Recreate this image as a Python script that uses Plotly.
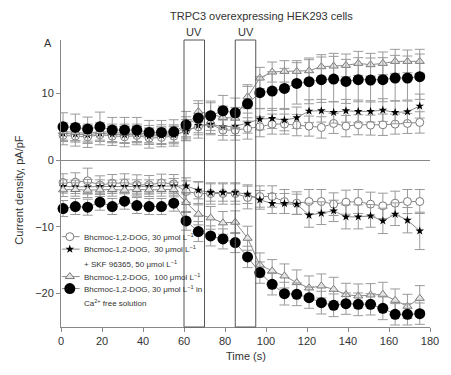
import plotly.graph_objects as go

# ---------------- data ----------------
time_s = [1, 7, 13, 19, 25, 31, 37, 43, 49, 55, 61, 67, 73, 79, 85,
          91, 97, 103, 109, 115, 121, 127, 133, 139, 145, 151, 157, 163, 169, 175]

# Bhcmoc-1,2-DOG 30 umol/L (open circles)
oc_pos = [3.7, 3.6, 3.5, 3.8, 3.6, 3.5, 3.7, 3.3, 3.4, 3.6, 4.5, 5.0, 5.4, 4.5, 4.5,
          4.75, 5.0, 5.4, 5.4, 5.25, 5.1, 4.9, 5.5, 5.1, 5.3, 5.25, 5.3, 5.4, 5.5, 5.65]
oc_pos_err = [1.4, 1.5, 1.6, 1.5, 1.4, 1.5, 1.4, 1.5, 1.4, 1.5, 1.6, 1.7, 1.6, 1.5, 1.5,
              1.6, 1.5, 1.5, 1.5, 1.6, 1.5, 1.6, 1.5, 1.6, 1.5, 1.5, 1.6, 1.5, 1.5, 1.6]
oc_neg = [-3.35, -3.3, -3.1, -3.75, -3.45, -3.45, -3.7, -3.7, -3.4, -3.55, -4.7, -5.0, -5.0, -5.0, -5.0,
          -5.6, -5.45, -5.45, -6.2, -6.45, -6.2, -6.2, -6.6, -6.3, -6.2, -6.6, -6.85, -6.45, -6.2, -6.2]
oc_neg_err = [1.3, 1.4, 1.9, 1.4, 1.3, 1.4, 1.5, 1.4, 1.3, 1.4, 1.6, 1.7, 1.6, 1.6, 1.6,
              1.7, 1.6, 1.6, 1.8, 1.7, 1.8, 1.8, 1.7, 1.8, 1.8, 1.8, 1.9, 1.8, 1.8, 1.8]

# Bhcmoc-1,2-DOG 30 umol/L + SKF 96365 50 umol/L (stars)
st_pos = [4.0, 3.9, 3.8, 4.0, 3.9, 3.8, 3.9, 3.6, 3.7, 3.8, 4.3, 5.2, 5.4, 5.0, 5.1,
          5.55, 6.15, 6.25, 6.0, 6.35, 7.35, 7.4, 7.15, 7.4, 7.3, 7.3, 7.5, 7.15, 7.25, 8.1]
st_pos_err = [1.2, 1.2, 1.3, 1.2, 1.2, 1.3, 1.2, 1.2, 1.3, 1.2, 1.3, 1.4, 1.4, 1.3, 1.4,
              1.5, 1.6, 1.5, 1.6, 1.6, 1.7, 1.7, 1.6, 1.7, 1.7, 1.6, 1.7, 1.7, 1.6, 1.8]
st_neg = [-3.95, -4.0, -4.0, -3.95, -4.0, -3.95, -3.95, -3.95, -3.95, -3.85, -3.85, -4.5, -4.85, -4.85, -4.85,
          -5.1, -5.95, -6.5, -6.5, -6.6, -8.25, -7.95, -7.6, -8.5, -8.5, -8.35, -9.1, -8.1, -9.0, -10.6]
st_neg_err = [1.0, 1.0, 1.1, 1.0, 1.0, 1.1, 1.0, 1.0, 1.0, 1.1, 1.2, 1.3, 1.3, 1.3, 1.3,
              1.4, 1.4, 1.5, 1.5, 1.5, 1.8, 1.7, 1.6, 1.8, 1.8, 1.7, 1.9, 1.7, 1.9, 2.8]

# Bhcmoc-1,2-DOG 100 umol/L (triangles)
tr_pos = [4.3, 4.2, 4.0, 4.3, 4.1, 4.0, 4.1, 3.9, 3.9, 4.0, 5.0, 7.3, 6.9, 6.4, 6.3,
          9.5, 12.3, 13.2, 13.3, 13.3, 13.4, 14.0, 14.1, 14.2, 14.5, 14.3, 14.5, 14.8, 14.8, 14.8]
tr_pos_err = [1.3, 1.3, 1.4, 1.3, 1.3, 1.4, 1.3, 1.3, 1.4, 1.3, 1.5, 1.6, 1.7, 1.7, 1.6,
              1.8, 1.6, 1.5, 1.6, 1.6, 1.9, 1.8, 1.9, 1.7, 1.8, 1.7, 1.7, 1.8, 1.7, 1.8]
tr_neg = [-4.45, -4.4, -4.5, -4.45, -4.4, -4.5, -4.4, -4.45, -4.4, -4.4, -6.35, -8.1, -8.65, -9.4, -9.3,
          -11.7, -15.7, -16.6, -17.35, -18.35, -19.15, -18.85, -19.35, -20.15, -20.35, -20.2, -20.1, -21.0, -21.9, -20.7]
tr_neg_err = [1.0, 1.0, 1.1, 1.0, 1.0, 1.1, 1.0, 1.0, 1.0, 1.1, 1.5, 1.6, 1.7, 1.7, 1.7,
              1.8, 1.8, 1.7, 1.8, 1.9, 1.8, 1.8, 1.8, 1.7, 1.8, 1.7, 1.8, 1.7, 1.8, 1.9]

# Bhcmoc-1,2-DOG 30 umol/L in Ca2+ free solution (filled circles)
fc_pos = [5.0, 4.9, 4.65, 5.0, 4.5, 4.5, 4.5, 4.15, 4.15, 4.25, 5.3, 6.3, 6.65, 7.4, 7.1,
          8.45, 10.1, 10.35, 10.75, 11.5, 11.75, 12.05, 12.15, 11.8, 12.05, 12.0, 12.05, 12.3, 12.3, 12.5]
fc_pos_err = [2.1, 2.0, 1.8, 2.2, 1.9, 1.9, 1.9, 1.8, 1.8, 1.8, 2.0, 2.2, 2.2, 2.3, 2.2,
              2.6, 2.4, 2.9, 3.0, 3.1, 3.3, 3.4, 3.4, 3.3, 3.3, 3.3, 3.3, 3.4, 3.3, 3.4]
fc_neg = [-7.25, -6.95, -7.05, -6.3, -6.95, -6.15, -6.8, -6.95, -6.95, -6.45, -9.1, -10.7, -11.35, -11.8, -12.35,
          -14.5, -16.85, -18.6, -20.0, -20.1, -20.6, -21.35, -21.75, -21.5, -21.6, -21.6, -22.2, -23.1, -23.1, -23.0]
fc_neg_err = [1.2, 1.2, 1.2, 1.2, 1.2, 1.2, 1.2, 1.2, 1.2, 1.2, 1.4, 1.5, 1.5, 1.5, 1.5,
              1.6, 1.6, 1.6, 1.7, 1.7, 1.6, 1.7, 1.7, 1.6, 1.7, 1.6, 1.7, 1.6, 1.6, 1.6]

uv_windows = [(60, 70), (85, 95)]
x_ticks = [0, 20, 40, 60, 80, 100, 120, 140, 160, 180]
y_ticks = [-20, -10, 0, 10]

legend_labels = [
    "Bhcmoc-1,2-DOG, 30 μmol L<sup>−1</sup>",
    "Bhcmoc-1,2-DOG,  30 μmol L<sup>−1</sup>",
    "+ SKF 96365, 50 μmol L<sup>−1</sup>",
    "Bhcmoc-1,2-DOG,  100 μmol L<sup>−1</sup>",
    "Bhcmoc-1,2-DOG, 30 μmol L<sup>−1</sup> in",
    "Ca<sup>2+</sup> free solution",
]

# ---------------- styles ----------------
FONT = "Arial, Liberation Sans, sans-serif"
LINE_C = "#8a8a8a"
ERR_C = "#9a9a9a"
TXT_C = "#333333"

styles = {
    "oc": dict(symbol="circle", size=8, color="white", line=dict(color="#7a7a7a", width=1)),
    "st": dict(symbol="star", size=6.5, color="black", line=dict(color="black", width=0)),
    "tr": dict(symbol="triangle-up", size=8, color="#e4e4e4", line=dict(color="#7a7a7a", width=1)),
    "fc": dict(symbol="circle", size=11, color="black", line=dict(color="black", width=0)),
}

series = [
    ("oc", oc_pos, oc_pos_err, oc_neg, oc_neg_err),
    ("st", st_pos, st_pos_err, st_neg, st_neg_err),
    ("tr", tr_pos, tr_pos_err, tr_neg, tr_neg_err),
    ("fc", fc_pos, fc_pos_err, fc_neg, fc_neg_err),
]

fig = go.Figure()
for key, yp, ep, yn, en in series:
    for yv, ev in ((yp, ep), (yn, en)):
        fig.add_trace(go.Scatter(
            x=time_s, y=yv, mode="lines+markers",
            line=dict(color=LINE_C, width=1),
            marker=styles[key],
            error_y=dict(type="data", array=ev, visible=True, color=ERR_C, thickness=1, width=5),
            showlegend=False, cliponaxis=False,
        ))

# ---------------- manual legend (pixel-space overlay axes) ----------------
PL, PR, PT, PB = 61, 438, 40, 327.5
W, H = 451, 375


def px(xp):
    return (xp - PL) / (PR - PL)


def py(yp):
    return (PB - yp) / (PB - PT)


leg_rows = [237, 249.5, 277, 289]
leg_keys = ["oc", "st", "tr", "fc"]
for key, yy in zip(leg_keys, leg_rows):
    fig.add_trace(go.Scatter(x=[62, 80], y=[yy, yy], mode="lines", line=dict(color=LINE_C, width=1),
                             xaxis="x2", yaxis="y2", showlegend=False, hoverinfo="skip"))
    fig.add_trace(go.Scatter(x=[70], y=[yy], mode="markers", marker=styles[key],
                             xaxis="x2", yaxis="y2", showlegend=False, hoverinfo="skip"))

text_rows = [237, 249.5, 264.5, 277, 289, 303]
annotations = []
for lab, yy in zip(legend_labels, text_rows):
    annotations.append(dict(x=px(82), y=py(yy), xref="paper", yref="paper", text=lab, showarrow=False,
                            xanchor="left", yanchor="middle", font=dict(family=FONT, size=8, color=TXT_C)))

annotations += [
    dict(x=px(266), y=py(16), xref="paper", yref="paper", text="TRPC3 overexpressing HEK293 cells",
         showarrow=False, xanchor="center", yanchor="middle", font=dict(family=FONT, size=11, color=TXT_C)),
    dict(x=px(47.5), y=py(43), xref="paper", yref="paper", text="A", showarrow=False,
         xanchor="center", yanchor="middle", font=dict(family=FONT, size=11, color=TXT_C)),
    dict(x=px(18), y=py(190), xref="paper", yref="paper", text="Current density, pA/pF", showarrow=False,
         textangle=-90, xanchor="center", yanchor="middle", font=dict(family=FONT, size=11, color=TXT_C)),
    dict(x=px(250), y=py(357), xref="paper", yref="paper", text="Time (s)", showarrow=False,
         xanchor="center", yanchor="middle", font=dict(family=FONT, size=11, color=TXT_C)),
]
for a, b in uv_windows:
    annotations.append(dict(x=(a + b) / 2, y=py(32), xref="x", yref="paper", text="UV", showarrow=False,
                            xanchor="center", yanchor="middle", font=dict(family=FONT, size=11, color=TXT_C)))

shapes = [dict(type="rect", x0=a, x1=b, y0=0, y1=1, xref="x", yref="y domain",
               line=dict(color="#555555", width=1), fillcolor="rgba(0,0,0,0)") for a, b in uv_windows]

fig.update_layout(
    width=W, height=H,
    margin=dict(l=PL, r=W - PR, t=PT, b=H - PB),
    plot_bgcolor="white", paper_bgcolor="white",
    font=dict(family=FONT, size=11, color=TXT_C),
    showlegend=False,
    xaxis=dict(range=[0, 180], tickvals=x_ticks, ticks="outside", ticklen=4, tickcolor="#888",
               showline=True, linecolor="#888", linewidth=1, showgrid=False, zeroline=False,
               tickfont=dict(size=11, color=TXT_C)),
    yaxis=dict(range=[-25, 18], tickvals=y_ticks, ticks="outside", ticklen=4, tickcolor="#888",
               showline=True, linecolor="#888", linewidth=1, showgrid=False,
               zeroline=True, zerolinecolor="#888", zerolinewidth=1,
               tickfont=dict(size=11, color=TXT_C)),
    xaxis2=dict(overlaying="x", range=[PL, PR], visible=False, fixedrange=True),
    yaxis2=dict(overlaying="y", range=[PB, PT], visible=False, fixedrange=True),
    annotations=annotations,
    shapes=shapes,
)

fig.write_html("out.html")
